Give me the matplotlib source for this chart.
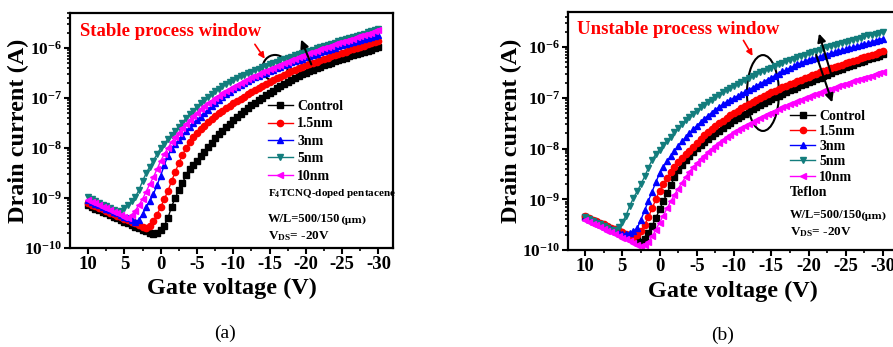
import matplotlib
matplotlib.use("Agg")
import matplotlib.pyplot as plt
from matplotlib.patches import Ellipse
from matplotlib.ticker import FixedLocator, FixedFormatter, LogLocator, NullFormatter
import numpy as np

plt.rcParams['font.family'] = ['Liberation Serif', 'DejaVu Serif']
plt.rcParams['font.weight'] = 'bold'
plt.rcParams['axes.labelweight'] = 'bold'
plt.rcParams['mathtext.fontset'] = 'custom'
plt.rcParams['mathtext.rm'] = 'Liberation Serif:bold'
plt.rcParams['mathtext.it'] = 'Liberation Serif:bold'
plt.rcParams['mathtext.bf'] = 'Liberation Serif:bold'
plt.rcParams['axes.unicode_minus'] = False

# gate voltage sweep, 0.5 V step, 10 V -> -30 V
vg = np.linspace(10, -30, 81)

labels = ["Control", "1.5nm", "3nm", "5nm", "10nm"]
colors = ["black", "red", "blue", "#137d7d", "magenta"]
markers = ["s", "o", "^", "v", "<"]

# (a) F4TCNQ-doped pentacene, log10(Id)
a_control = [-9.14,-9.17,-9.21,-9.24,-9.27,-9.30,-9.34,-9.37,-9.40,-9.44,
             -9.47,-9.50,-9.53,-9.57,-9.60,-9.63,-9.66,-9.70,-9.72,-9.70,
             -9.64,-9.55,-9.40,-9.17,-9.00,-8.84,-8.70,-8.54,-8.41,-8.33,
             -8.25,-8.16,-8.07,-7.98,-7.89,-7.80,-7.72,-7.65,-7.58,-7.51,
             -7.44,-7.38,-7.32,-7.26,-7.20,-7.14,-7.09,-7.04,-6.99,-6.94,
             -6.89,-6.85,-6.80,-6.76,-6.72,-6.68,-6.64,-6.60,-6.56,-6.52,
             -6.49,-6.46,-6.43,-6.40,-6.37,-6.34,-6.31,-6.29,-6.26,-6.24,
             -6.21,-6.19,-6.16,-6.14,-6.12,-6.09,-6.07,-6.05,-6.03,-6.00,
             -5.98]
a_15 = [-9.10,-9.13,-9.16,-9.19,-9.22,-9.25,-9.29,-9.32,-9.35,-9.38,
        -9.41,-9.44,-9.47,-9.50,-9.54,-9.57,-9.60,-9.56,-9.46,-9.33,
        -9.18,-9.02,-8.86,-8.66,-8.48,-8.30,-8.14,-8.00,-7.88,-7.78,
        -7.70,-7.62,-7.55,-7.48,-7.42,-7.36,-7.30,-7.25,-7.20,-7.15,
        -7.10,-7.06,-7.01,-6.97,-6.92,-6.88,-6.84,-6.80,-6.76,-6.72,
        -6.68,-6.64,-6.60,-6.57,-6.53,-6.50,-6.46,-6.43,-6.40,-6.37,
        -6.34,-6.31,-6.29,-6.27,-6.24,-6.21,-6.19,-6.16,-6.14,-6.11,
        -6.09,-6.07,-6.04,-6.02,-6.00,-5.97,-5.95,-5.92,-5.90,-5.87,
        -5.85]
a_3 = [-9.04,-9.07,-9.11,-9.14,-9.17,-9.21,-9.24,-9.27,-9.30,-9.34,
       -9.37,-9.40,-9.44,-9.47,-9.44,-9.32,-9.18,-9.06,-8.92,-8.74,
       -8.55,-8.34,-8.15,-8.02,-7.92,-7.83,-7.75,-7.66,-7.58,-7.50,
       -7.44,-7.37,-7.30,-7.23,-7.16,-7.09,-7.03,-6.97,-6.92,-6.87,
       -6.82,-6.78,-6.74,-6.70,-6.66,-6.62,-6.58,-6.55,-6.52,-6.49,
       -6.46,-6.43,-6.40,-6.37,-6.34,-6.31,-6.28,-6.26,-6.23,-6.21,
       -6.18,-6.16,-6.13,-6.11,-6.08,-6.06,-6.03,-6.01,-5.99,-5.96,
       -5.94,-5.92,-5.90,-5.88,-5.86,-5.84,-5.82,-5.80,-5.78,-5.76,
       -5.74]
a_5 = [-8.98,-9.02,-9.05,-9.09,-9.13,-9.16,-9.20,-9.24,-9.27,-9.25,
       -9.20,-9.13,-9.06,-8.98,-8.84,-8.66,-8.50,-8.37,-8.25,-8.12,
       -8.00,-7.91,-7.82,-7.73,-7.65,-7.57,-7.49,-7.40,-7.32,-7.25,
       -7.17,-7.10,-7.04,-6.98,-6.92,-6.86,-6.81,-6.76,-6.71,-6.67,
       -6.63,-6.59,-6.56,-6.53,-6.50,-6.47,-6.44,-6.41,-6.38,-6.35,
       -6.32,-6.29,-6.27,-6.24,-6.22,-6.19,-6.17,-6.14,-6.12,-6.10,
       -6.07,-6.05,-6.03,-6.00,-5.98,-5.96,-5.93,-5.91,-5.89,-5.86,
       -5.84,-5.82,-5.80,-5.77,-5.75,-5.73,-5.71,-5.68,-5.66,-5.64,
       -5.62]
a_10 = [-9.04,-9.07,-9.10,-9.14,-9.17,-9.20,-9.24,-9.27,-9.30,-9.34,
        -9.37,-9.39,-9.34,-9.25,-9.14,-9.02,-8.87,-8.72,-8.58,-8.42,
        -8.26,-8.12,-8.00,-7.88,-7.78,-7.69,-7.60,-7.52,-7.44,-7.36,
        -7.29,-7.22,-7.16,-7.10,-7.05,-7.00,-6.95,-6.90,-6.86,-6.81,
        -6.77,-6.73,-6.69,-6.65,-6.62,-6.58,-6.55,-6.51,-6.48,-6.45,
        -6.42,-6.39,-6.36,-6.33,-6.30,-6.27,-6.24,-6.21,-6.18,-6.16,
        -6.13,-6.10,-6.08,-6.05,-6.02,-6.00,-5.97,-5.95,-5.92,-5.90,
        -5.88,-5.85,-5.83,-5.81,-5.78,-5.76,-5.74,-5.71,-5.69,-5.66,
        -5.64]

# (b) Teflon, log10(Id)
b_control = [-9.35,-9.38,-9.42,-9.45,-9.48,-9.52,-9.55,-9.58,-9.61,-9.65,
             -9.68,-9.71,-9.74,-9.78,-9.81,-9.84,-9.78,-9.66,-9.52,-9.37,
             -9.20,-9.04,-8.88,-8.72,-8.57,-8.43,-8.32,-8.23,-8.14,-8.06,
             -7.99,-7.93,-7.87,-7.81,-7.76,-7.70,-7.65,-7.60,-7.54,-7.49,
             -7.44,-7.39,-7.35,-7.31,-7.26,-7.22,-7.18,-7.14,-7.10,-7.07,
             -7.03,-6.99,-6.96,-6.92,-6.89,-6.85,-6.82,-6.79,-6.75,-6.72,
             -6.69,-6.66,-6.63,-6.60,-6.57,-6.54,-6.51,-6.48,-6.46,-6.43,
             -6.40,-6.37,-6.35,-6.32,-6.29,-6.27,-6.24,-6.22,-6.19,-6.17,
             -6.14]
b_15 = [-9.33,-9.36,-9.40,-9.43,-9.46,-9.49,-9.52,-9.56,-9.59,-9.62,
        -9.65,-9.68,-9.72,-9.74,-9.70,-9.62,-9.51,-9.35,-9.18,-9.00,
        -8.83,-8.70,-8.58,-8.46,-8.36,-8.27,-8.19,-8.11,-8.04,-7.97,
        -7.89,-7.81,-7.74,-7.68,-7.62,-7.56,-7.50,-7.45,-7.39,-7.34,
        -7.29,-7.25,-7.20,-7.16,-7.12,-7.08,-7.04,-7.00,-6.96,-6.93,
        -6.89,-6.86,-6.82,-6.79,-6.76,-6.73,-6.70,-6.67,-6.64,-6.61,
        -6.58,-6.55,-6.53,-6.50,-6.47,-6.45,-6.42,-6.40,-6.37,-6.35,
        -6.32,-6.30,-6.27,-6.25,-6.22,-6.20,-6.18,-6.15,-6.13,-6.10,
        -6.08]
b_3 = [-9.35,-9.38,-9.42,-9.45,-9.49,-9.52,-9.56,-9.59,-9.62,-9.66,
       -9.69,-9.68,-9.66,-9.63,-9.57,-9.40,-9.22,-9.03,-8.85,-8.66,
       -8.49,-8.36,-8.25,-8.15,-8.05,-7.95,-7.86,-7.78,-7.70,-7.62,
       -7.55,-7.48,-7.41,-7.35,-7.29,-7.23,-7.18,-7.13,-7.08,-7.04,
       -7.00,-6.96,-6.92,-6.88,-6.84,-6.80,-6.76,-6.72,-6.68,-6.64,
       -6.60,-6.56,-6.52,-6.48,-6.45,-6.41,-6.38,-6.34,-6.31,-6.28,
       -6.25,-6.23,-6.21,-6.19,-6.17,-6.15,-6.12,-6.10,-6.08,-6.06,
       -6.04,-6.02,-6.00,-5.98,-5.96,-5.94,-5.92,-5.90,-5.87,-5.85,
       -5.83]
b_5 = [-9.35,-9.39,-9.42,-9.46,-9.49,-9.53,-9.57,-9.60,-9.60,-9.55,
       -9.45,-9.32,-9.13,-8.97,-8.84,-8.70,-8.55,-8.38,-8.22,-8.11,
       -8.02,-7.93,-7.85,-7.77,-7.68,-7.60,-7.52,-7.44,-7.37,-7.31,
       -7.25,-7.19,-7.14,-7.09,-7.04,-6.99,-6.94,-6.89,-6.85,-6.80,
       -6.76,-6.72,-6.68,-6.64,-6.60,-6.57,-6.53,-6.50,-6.47,-6.44,
       -6.41,-6.37,-6.34,-6.31,-6.28,-6.26,-6.23,-6.20,-6.17,-6.15,
       -6.12,-6.10,-6.07,-6.05,-6.02,-6.00,-5.98,-5.96,-5.93,-5.91,
       -5.89,-5.87,-5.85,-5.83,-5.81,-5.79,-5.77,-5.76,-5.74,-5.72,
       -5.70]
b_10 = [-9.41,-9.44,-9.48,-9.51,-9.55,-9.58,-9.62,-9.65,-9.69,-9.72,
        -9.76,-9.79,-9.83,-9.86,-9.90,-9.93,-9.91,-9.84,-9.73,-9.60,
        -9.46,-9.32,-9.18,-9.04,-8.91,-8.79,-8.67,-8.56,-8.46,-8.37,
        -8.29,-8.21,-8.14,-8.07,-8.01,-7.95,-7.89,-7.83,-7.78,-7.73,
        -7.68,-7.64,-7.59,-7.55,-7.51,-7.47,-7.43,-7.39,-7.36,-7.32,
        -7.29,-7.25,-7.22,-7.19,-7.16,-7.13,-7.10,-7.07,-7.04,-7.01,
        -6.98,-6.95,-6.93,-6.90,-6.87,-6.85,-6.82,-6.80,-6.77,-6.75,
        -6.72,-6.70,-6.67,-6.65,-6.63,-6.60,-6.58,-6.56,-6.53,-6.51,
        -6.49]

series_a = [a_control, a_15, a_3, a_5, a_10]
series_b = [b_control, b_15, b_3, b_5, b_10]

ytick_vals = [1e-10, 1e-9, 1e-8, 1e-7, 1e-6]
ytick_labels = [r'$10^{-10}$', r'$10^{-9}$', r'$10^{-8}$', r'$10^{-7}$', r'$10^{-6}$']
xtick_vals = [10, 5, 0, -5, -10, -15, -20, -25, -30]

fig = plt.figure(figsize=(8.93, 3.47), dpi=100)
ax1 = fig.add_axes([0.0784, 0.2853, 0.3616, 0.6772])
ax2 = fig.add_axes([0.636, 0.2795, 0.3695, 0.6855])


def style(ax, xlim, ytop, ylab_x, xlab_y):
    ax.set_yscale('log')
    ax.set_xlim(*xlim)
    ax.set_ylim(1e-10, ytop)
    ax.yaxis.set_major_locator(FixedLocator(ytick_vals))
    ax.yaxis.set_major_formatter(FixedFormatter(ytick_labels))
    ax.yaxis.set_minor_locator(LogLocator(base=10, subs=np.arange(2, 10)))
    ax.yaxis.set_minor_formatter(NullFormatter())
    ax.set_xticks(xtick_vals)
    ax.set_xticklabels([str(v) for v in xtick_vals])
    ax.set_xticks(np.arange(7.5, -30, -5), minor=True)
    ax.tick_params(which='major', direction='out', length=4, width=1.5,
                   labelsize=13.5, pad=2)
    ax.tick_params(axis='y', which='major', labelsize=12.5, pad=1.5)
    ax.tick_params(which='minor', direction='out', length=2.5, width=1.2)
    for s in ax.spines.values():
        s.set_linewidth(1.6)
    ax.set_xlabel('Gate voltage (V)', fontsize=17.5)
    ax.set_ylabel('Drain current (A)', fontsize=17.5)
    ax.yaxis.set_label_coords(ylab_x, 0.5)
    ax.xaxis.set_label_coords(0.5, xlab_y)


for ax, data in [(ax1, series_a), (ax2, series_b)]:
    for y, lab, c, m in zip(data, labels, colors, markers):
        ax.plot(vg, 10 ** np.array(y), color=c, marker=m, ms=4.5, lw=1,
                mec=c, mfc=c, label=lab)

style(ax1, (12.5, -32), 10 ** -5.3, -0.128, -0.125)
style(ax2, (12.3, -32), 10 ** -5.31, -0.14, -0.128)

# panel (a) annotations
ax1.legend(loc='upper left', bbox_to_anchor=(0.613, 0.63), frameon=False,
           fontsize=10, borderpad=0, borderaxespad=0, labelspacing=0.32,
           handlelength=1.8, handletextpad=0.3)
ax1.text(0.613, 0.234, r'F$_4$TCNQ-doped pentacene', transform=ax1.transAxes,
         fontsize=8, va='center')
ax1.text(0.613, 0.123, 'W/L=500/150', transform=ax1.transAxes,
         fontsize=9, va='center')
ax1.text(0.838, 0.118, '(\u03bcm)', transform=ax1.transAxes,
         fontsize=7, va='center', family=['DejaVu Serif'])
ax1.text(0.613, 0.051, r'V$_{DS}$= -20V', transform=ax1.transAxes,
         fontsize=9.5, va='center')
ax1.text(0.031, 0.923, 'Stable process window', transform=ax1.transAxes,
         fontsize=13.5, color='red', va='center')
ax1.annotate('', xy=(-14.55, 10 ** -6.26), xytext=(-12.76, 10 ** -5.88),
             arrowprops=dict(arrowstyle='-|>', color='red', lw=1.2,
                             mutation_scale=9))
ax1.add_patch(Ellipse((0.635, 0.766), 0.0774, 0.111, transform=ax1.transAxes,
                      fill=False, ec='black', lw=1.5))
ax1.annotate('', xy=(-19.2, 10 ** -5.78), xytext=(-20.9, 10 ** -6.38),
             arrowprops=dict(arrowstyle='-|>', color='black', lw=1.5,
                             mutation_scale=12))

# panel (b) annotations
ax2.legend(loc='upper left', bbox_to_anchor=(0.673, 0.59), frameon=False,
           fontsize=10, borderpad=0, borderaxespad=0, labelspacing=0.16,
           handlelength=1.8, handletextpad=0.3)
ax2.text(0.673, 0.24, 'Teflon', transform=ax2.transAxes,
         fontsize=10, va='center')
ax2.text(0.673, 0.147, 'W/L=500/150', transform=ax2.transAxes,
         fontsize=9, va='center')
ax2.text(0.885, 0.142, '(\u03bcm)', transform=ax2.transAxes,
         fontsize=7, va='center', family=['DejaVu Serif'])
ax2.text(0.673, 0.076, r'V$_{DS}$= -20V', transform=ax2.transAxes,
         fontsize=9.5, va='center')
ax2.text(0.027, 0.929, 'Unstable process window', transform=ax2.transAxes,
         fontsize=13.5, color='red', va='center')
ax2.annotate('', xy=(-12.68, 10 ** -6.22), xytext=(-11.07, 10 ** -5.82),
             arrowprops=dict(arrowstyle='-|>', color='red', lw=1.2,
                             mutation_scale=9))
ax2.add_patch(Ellipse((0.591, 0.66), 0.097, 0.319, transform=ax2.transAxes,
                      fill=False, ec='black', lw=1.5))
ax2.annotate('', xy=(-21.3, 10 ** -5.68), xytext=(-23.15, 10 ** -6.59),
             arrowprops=dict(arrowstyle='-|>', color='black', lw=1.5,
                             mutation_scale=12))
ax2.annotate('', xy=(-23.3, 10 ** -7.14), xytext=(-20.9, 10 ** -6.10),
             arrowprops=dict(arrowstyle='-|>', color='black', lw=1.5,
                             mutation_scale=12))

fig.text(225 / 893, 1 - 333 / 347, '(a)', fontsize=14, ha='center',
         va='center', fontweight='normal')
fig.text(723 / 893, 1 - 335 / 347, '(b)', fontsize=14, ha='center',
         va='center', fontweight='normal')

fig.savefig('out.png', dpi=100)
